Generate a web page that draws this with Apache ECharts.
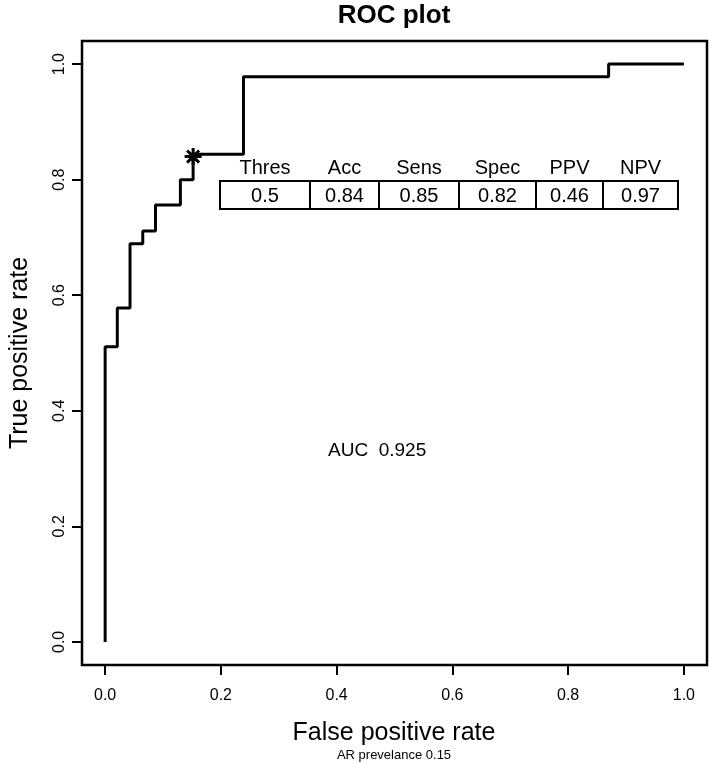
<!DOCTYPE html>
<html>
<head>
<meta charset="utf-8">
<script src="https://cdn.jsdelivr.net/npm/echarts@6/dist/echarts.min.js"></script>
<style>
  html, body { margin: 0; padding: 0; background: #fff; }
  #chart { width: 709px; height: 764px; }
</style>
</head>
<body>
<div id="chart"></div>
<script>
// ROC curve corner points (step drawn horizontally, then vertically)
var fpr = [0, 0, 0.021, 0.043, 0.065, 0.087, 0.130, 0.152, 0.239, 0.870, 1.0];
var tpr = [0, 0.511, 0.578, 0.689, 0.711, 0.756, 0.800, 0.844, 0.978, 1.0, 1.0];
// chosen cut-off point
var cutPoint = [0.152, 0.84];
var xTicks = [0, 0.2, 0.4, 0.6, 0.8, 1.0];
var yTicks = [0, 0.2, 0.4, 0.6, 0.8, 1.0];
var tableHead = ["Thres", "Acc", "Sens", "Spec", "PPV", "NPV"];
var tableVals = ["0.5", "0.84", "0.85", "0.82", "0.46", "0.97"];
var aucLabel = "AUC  0.925";
var aucPos = [0.47, 0.33];

var FONT = "Liberation Sans, Arial, Helvetica, sans-serif";

var chart = echarts.init(document.getElementById('chart'));

var rocData = [];
for (var i = 0; i < fpr.length; i++) {
  rocData.push([fpr[i], tpr[i]]);
}

// R style: axis range padded 4% each side, ticks outside the frame
function axisOpts(ticks, extra) {
  var ax = {
    type: 'value',
    min: -0.04,
    max: 1.04,
    axisLine: { show: false, onZero: false },
    axisTick: { show: true, length: 10, customValues: ticks, lineStyle: { color: '#000', width: 2 } },
    splitLine: { show: false },
    axisLabel: {
      customValues: ticks,
      color: '#000', fontSize: 16, fontFamily: FONT,
      formatter: function (v) { return v.toFixed(1); }
    }
  };
  for (var k in extra) ax.axisLabel[k] = extra[k];
  return ax;
}

var option = {
  animation: false,
  backgroundColor: '#ffffff',
  grid: { left: 82, right: 2, top: 41, bottom: 99 },
  xAxis: axisOpts(xTicks, { margin: 23 }),
  yAxis: axisOpts(yTicks, { margin: 14, rotate: 90 }),
  series: [
    {
      type: 'line',
      step: 'end',
      data: rocData,
      symbol: 'none',
      lineStyle: { color: '#000', width: 3 },
      z: 3
    },
    {
      type: 'scatter',
      data: [cutPoint],
      symbol: 'path://M0,-10L0,10M-10,0L10,0M-7.07,-7.07L7.07,7.07M-7.07,7.07L7.07,-7.07',
      symbolSize: 17,
      itemStyle: { color: 'rgba(0,0,0,0)', borderColor: '#000', borderWidth: 3, opacity: 1 },
      z: 4
    },
    {
      type: 'scatter',
      data: [aucPos],
      symbolSize: 0,
      itemStyle: { opacity: 1 },
      label: {
        show: true, position: 'inside', formatter: aucLabel,
        color: '#000', fontSize: 19, fontFamily: FONT, textBorderWidth: 0
      }
    }
  ]
};

chart.setOption(option);

// frame, titles and the metrics table
var g = [];
g.push({
  type: 'rect', shape: { x: 82, y: 41, width: 625, height: 624 },
  style: { fill: 'none', stroke: '#000', lineWidth: 2.5 }, z: 10
});
g.push({
  type: 'text', x: 394, y: 16,
  style: { text: 'ROC plot', font: 'bold 26px ' + FONT, fill: '#000', align: 'center', verticalAlign: 'middle' }
});
g.push({
  type: 'text', x: 394, y: 733,
  style: { text: 'False positive rate', font: '25px ' + FONT, fill: '#000', align: 'center', verticalAlign: 'middle' }
});
g.push({
  type: 'text', x: 394, y: 755,
  style: { text: 'AR prevelance 0.15', font: '13px ' + FONT, fill: '#000', align: 'center', verticalAlign: 'middle' }
});
g.push({
  type: 'text', x: 20, y: 353, rotation: Math.PI / 2,
  style: { text: 'True positive rate', font: '25px ' + FONT, fill: '#000', align: 'center', verticalAlign: 'middle' }
});

var colEdges = [220, 310, 379, 459, 536, 603, 678];
var rowTop = 181, rowBottom = 209, headY = 168;
g.push({
  type: 'rect', shape: { x: colEdges[0], y: rowTop, width: colEdges[6] - colEdges[0], height: rowBottom - rowTop },
  style: { fill: '#fff', stroke: '#000', lineWidth: 2 }, z: 10
});
for (var c = 0; c < tableHead.length; c++) {
  var cx = (colEdges[c] + colEdges[c + 1]) / 2;
  if (c > 0) {
    g.push({
      type: 'line', shape: { x1: colEdges[c], y1: rowTop, x2: colEdges[c], y2: rowBottom },
      style: { stroke: '#000', lineWidth: 2 }, z: 11
    });
  }
  g.push({
    type: 'text', x: cx, y: headY, z: 11,
    style: { text: tableHead[c], font: '20px ' + FONT, fill: '#000', align: 'center', verticalAlign: 'middle' }
  });
  g.push({
    type: 'text', x: cx, y: (rowTop + rowBottom) / 2 + 1, z: 11,
    style: { text: tableVals[c], font: '20px ' + FONT, fill: '#000', align: 'center', verticalAlign: 'middle' }
  });
}

chart.setOption({ graphic: g });
</script>
</body>
</html>
